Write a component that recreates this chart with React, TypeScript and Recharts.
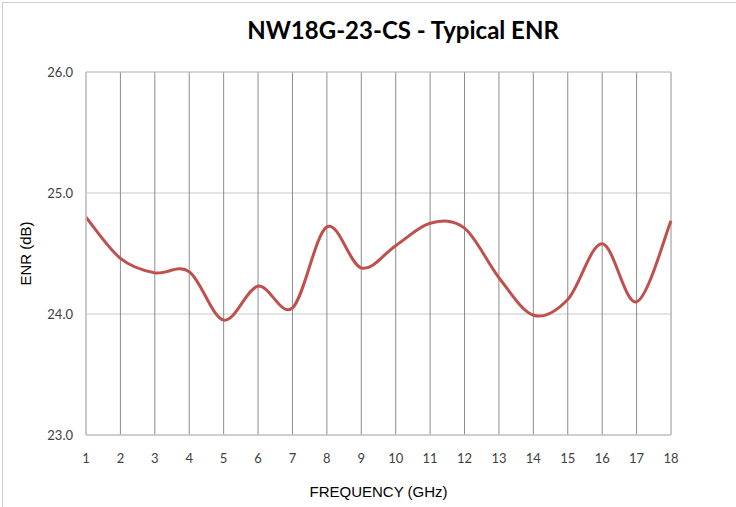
import React from "react";
import { LineChart, Line, XAxis, YAxis, CartesianGrid, ReferenceLine } from "recharts";

const frequencies = [1, 2, 3, 4, 5, 6, 7, 8, 9, 10, 11, 12, 13, 14, 15, 16, 17, 18];
const enrValues = [24.8, 24.46, 24.34, 24.35, 23.95, 24.23, 24.05, 24.72, 24.38, 24.565, 24.75, 24.71, 24.3, 23.99, 24.12, 24.58, 24.1, 24.77];
const yTicks = [23, 24, 25, 26];

const data = frequencies.map((f, i) => ({ freq: f, enr: enrValues[i] }));

// Excel-like smoothed line (Catmull-Rom bezier)
const excelCurve = (context: any) => {
  let pts: [number, number][] = [];
  return {
    areaStart() {},
    areaEnd() {},
    lineStart() {
      pts = [];
    },
    point(x: number, y: number) {
      pts.push([+x, +y]);
    },
    lineEnd() {
      const n = pts.length;
      if (!n) return;
      context.moveTo(pts[0][0], pts[0][1]);
      const t = 1 / 6;
      for (let i = 0; i < n - 1; i++) {
        const p0 = pts[i - 1] || pts[i];
        const p1 = pts[i];
        const p2 = pts[i + 1];
        const p3 = pts[i + 2] || p2;
        context.bezierCurveTo(
          p1[0] + (p2[0] - p0[0]) * t,
          p1[1] + (p2[1] - p0[1]) * t,
          p2[0] - (p3[0] - p1[0]) * t,
          p2[1] - (p3[1] - p1[1]) * t,
          p2[0],
          p2[1]
        );
      }
    },
  };
};

const tickFont = { fontFamily: "Lato, 'Open Sans', sans-serif", fontSize: 13, fill: "#404040" };

export default function App() {
  return (
    <div style={{ position: "absolute", left: 0, top: 0, width: 736, height: 507, background: "#fff" }}>
      <div
        style={{
          position: "absolute",
          left: 2,
          top: 2,
          width: 760,
          height: 520,
          borderLeft: "1px solid #d0d0d0",
          borderTop: "1px solid #d0d0d0",
        }}
      />
      <LineChart
        width={736}
        height={507}
        data={data}
        margin={{ top: 72, right: 65, bottom: 0, left: 0 }}
        style={{ position: "absolute", left: 0, top: 0 }}
      >
        <CartesianGrid horizontal={true} vertical={false} stroke="#c8c8c8" strokeWidth={1} />
        <CartesianGrid horizontal={false} vertical={true} stroke="#8c8c8c" strokeWidth={1} />
        <ReferenceLine x={1} stroke="#c8c8c8" strokeWidth={1.5} />
        <ReferenceLine x={18} stroke="#c8c8c8" strokeWidth={2} />
        <ReferenceLine y={26} stroke="#c8c8c8" strokeWidth={1} />
        <XAxis
          dataKey="freq"
          type="number"
          domain={[1, 18]}
          ticks={frequencies}
          interval={0}
          height={72}
          tickLine={false}
          tickSize={0}
          tickMargin={19}
          axisLine={{ stroke: "#c8c8c8", strokeWidth: 1.5 }}
          tick={tickFont}
          label={{
            value: "FREQUENCY (GHz)",
            position: "insideBottom",
            offset: 10,
            style: { fontFamily: "'Liberation Sans', Arial, sans-serif", fontSize: 15, fill: "#000" },
          }}
        />
        <YAxis
          type="number"
          domain={[23, 26]}
          ticks={yTicks}
          interval={0}
          width={86}
          tickLine={false}
          tickSize={0}
          tickMargin={13}
          axisLine={{ stroke: "#c8c8c8", strokeWidth: 1.5 }}
          tick={tickFont}
          tickFormatter={(v: number) => v.toFixed(1)}
          label={{
            value: "ENR (dB)",
            angle: -90,
            position: "insideLeft",
            offset: 0,
            dx: 26 - 0,
            style: { fontFamily: "'Liberation Sans', Arial, sans-serif", fontSize: 15, fill: "#000", textAnchor: "middle" },
          }}
        />
        <Line
          dataKey="enr"
          type={excelCurve as any}
          stroke="#c0504d"
          strokeWidth={3}
          dot={false}
          activeDot={false}
          isAnimationActive={false}
        />
        <text
          x={403}
          y={39}
          textAnchor="middle"
          style={{ fontFamily: "Lato, 'Open Sans', sans-serif", fontSize: 24, fontWeight: 700, fill: "#000" }}
        >
          NW18G-23-CS - Typical ENR
        </text>
      </LineChart>
    </div>
  );
}
